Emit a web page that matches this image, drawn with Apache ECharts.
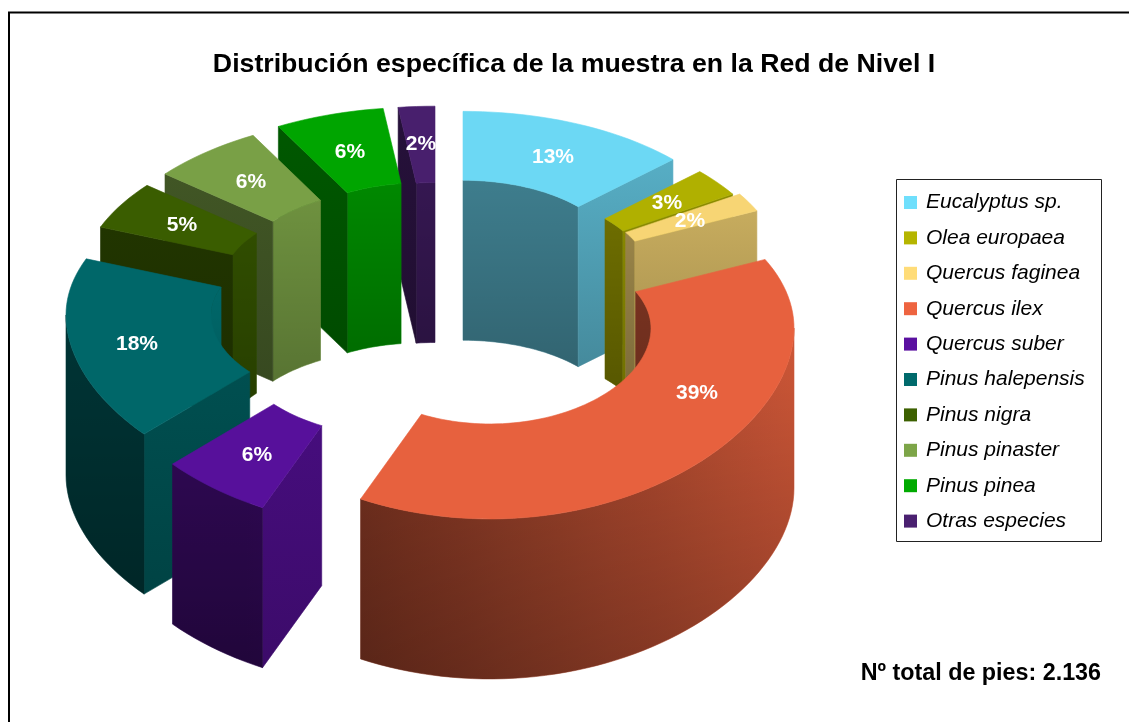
<!DOCTYPE html>
<html>
	<head>
		<meta charset="utf-8">
		<title>Distribución específica</title>
		<script src="https://cdn.jsdelivr.net/npm/echarts@6/dist/echarts.min.js"></script>
		<style>
			* { padding: 0; margin: 0; }
			body { background: #fff; }
			#main { width: 1129px; height: 722px; }
		</style>
	</head>
	<body>
		<div id="main"></div>
	</body>
	<script type="text/javascript">
		// datos
		var categories = ['Eucalyptus sp.', 'Olea europaea', 'Quercus faginea', 'Quercus ilex', 'Quercus suber',
			'Pinus halepensis', 'Pinus nigra', 'Pinus pinaster', 'Pinus pinea', 'Otras especies'];
		var percents = [13, 3, 2, 39, 6, 18, 5, 6, 6, 2];
		var legendColors = ['#6fdffc', '#b5b500', '#ffdc78', '#ee6440', '#5a10a0', '#006a6c', '#3c6000', '#7da548', '#00aa00', '#4a2070'];
		var titleText = 'Distribución específica de la muestra en la Red de Nivel I';
		var totalText = 'Nº total de pies: 2.136';

		// geometria del donut
		var baseX = 437, baseY = 303;
		var depth = 160;
		var tiltBack = 0.53, tiltFront = 0.56, bow = 0.0004;
		// radios y desplazamiento de cada porcion (explode), en px
		var radii = [[288, 158], [285, 155], [285, 150], [304, 161], [297, 158], [288, 143], [292, 150], [305, 165], [294, 151], [294, 150]];
		var explode = [[26, -39], [55, -28], [62, -28], [53, 25], [-48, 38], [-83, 12], [-65, -19], [-37, -26], [-17, -40], [-2, -41]];
		var labelAt = [[553, 157], [667, 203], [690, 221], [697, 393], [257, 455], [137, 344], [182, 225], [251, 182], [350, 152], [421, 144]];
		// tono de la pared interior de cada porcion
		var innerTone = [0.56, 0.6, 0.6, 0.5, 0.5, 0.97, 0.8, 0.88, 0.8, 0.72];

		// angulos acumulados
		var total = percents.reduce(function (a, b) { return a + b; }, 0);
		var startAngles = [];
		var acc = 0;
		for (let i = 0; i < percents.length; i++) {
			startAngles.push(acc / total * 360);
			acc += percents[i];
		}

		function rad(a) { return a * Math.PI / 180; }

		function shade(hex, f) {
			var n = parseInt(hex.slice(1), 16);
			var r = Math.min(255, Math.round((n >> 16) * f));
			var g = Math.min(255, Math.round(((n >> 8) & 255) * f));
			var b = Math.min(255, Math.round((n & 255) * f));
			return 'rgb(' + r + ',' + g + ',' + b + ')';
		}

		function vGrad(hex, f1, f2) {
			return new echarts.graphic.LinearGradient(0, 0, 0, 1, [
				{ offset: 0, color: shade(hex, f1) },
				{ offset: 1, color: shade(hex, f2) }
			]);
		}

		function point(i, outer, a, z) {
			var r = radii[i][outer ? 0 : 1];
			var wx = r * Math.sin(rad(a));
			var wy = r * Math.cos(rad(a));
			var sy = wy > 0 ? -tiltBack * wy : -tiltFront * wy * (1 + bow * Math.abs(wy));
			return [baseX + explode[i][0] + wx, baseY + explode[i][1] + sy + z];
		}

		function arc(i, outer, a1, a2, z) {
			var pts = [];
			var n = Math.max(2, Math.ceil((a2 - a1) / 2));
			for (let k = 0; k <= n; k++) {
				pts.push(point(i, outer, a1 + (a2 - a1) * k / n, z));
			}
			return pts;
		}

		function poly(points, fill, edge) {
			var style = { fill: fill };
			if (edge) {
				style.stroke = fill;
				style.lineWidth = 0.6;
			}
			return { type: 'polygon', shape: { points: points }, style: style };
		}

		// pared curva: gradiente horizontal segun el angulo + oscurecido vertical
		function curvedWall(i, outer, a1, a2, hex, shadeAt, darken) {
			var pts = arc(i, outer, a1, a2, 0).concat(arc(i, outer, a1, a2, depth).reverse());
			var x1 = point(i, outer, a1, 0)[0];
			var x2 = point(i, outer, a2, 0)[0];
			var minX = Math.min(x1, x2), maxX = Math.max(x1, x2);
			var stops = [];
			for (let k = 0; k <= 12; k++) {
				let a = a1 + (a2 - a1) * k / 12;
				let off = (point(i, outer, a, 0)[0] - minX) / Math.max(1, maxX - minX);
				stops.push({ offset: off, color: shade(hex, shadeAt(a)) });
			}
			stops.sort(function (p, q) { return p.offset - q.offset; });
			return [
				poly(pts, new echarts.graphic.LinearGradient(0, 0, 1, 0, stops), true),
				poly(pts, new echarts.graphic.LinearGradient(0, 0, 0, 1, [
					{ offset: 0, color: 'rgba(0,0,0,0)' },
					{ offset: 1, color: 'rgba(0,0,0,' + darken + ')' }
				]))
			];
		}

		function outerShade(a) { return Math.max(0.5, 0.62 + 0.25 * Math.sin(rad(a))); }

		function makeRender(i) {
			return function () {
				var hex = legendColors[i];
				var a1 = startAngles[i];
				var a2 = a1 + percents[i] / total * 360;
				var children = [];
				var innerShade = function () { return innerTone[i]; };

				// pared interior (solo lo que mira hacia el observador)
				var inA = [Math.max(a1, 0), Math.min(a2, 90)];
				var inB = [Math.max(a1, 270), Math.min(a2, 360)];
				if (inA[1] > inA[0]) {
					children = children.concat(curvedWall(i, false, inA[0], inA[1], hex, innerShade, 0.2));
				}
				if (inB[1] > inB[0]) {
					children = children.concat(curvedWall(i, false, inB[0], inB[1], hex, innerShade, 0.2));
				}
				// caras de corte
				if (Math.sin(rad(a2)) > 0.001) {
					children.push(poly([point(i, false, a2, 0), point(i, true, a2, 0), point(i, true, a2, depth), point(i, false, a2, depth)], vGrad(hex, 0.78, 0.62), true));
				}
				if (Math.sin(rad(a1)) < -0.001) {
					let f = Math.max(0.52, 0.62 - 0.18 * Math.cos(rad(a1)));
					children.push(poly([point(i, false, a1, 0), point(i, true, a1, 0), point(i, true, a1, depth), point(i, false, a1, depth)], vGrad(hex, f, f * 0.85), true));
				}
				// pared exterior
				var outA = [Math.max(a1, 90), Math.min(a2, 270)];
				if (outA[1] > outA[0]) {
					children = children.concat(curvedWall(i, true, outA[0], outA[1], hex, outerShade, 0.28));
				}
				// cara superior
				children.push(poly(arc(i, true, a1, a2, 0).concat(arc(i, false, a1, a2, 0).reverse()), shade(hex, 0.97), true));
				// etiqueta
				children.push({
					type: 'text',
					z2: 10,
					style: {
						text: percents[i] + '%',
						x: labelAt[i][0],
						y: labelAt[i][1],
						align: 'center',
						verticalAlign: 'middle',
						fill: '#fff',
						font: 'bold 21px "Liberation Sans", Arial, sans-serif'
					}
				});
				return { type: 'group', children: children };
			};
		}

		// de atras hacia adelante
		var order = percents.map(function (v, i) { return i; }).sort(function (p, q) {
			var mp = startAngles[p] + percents[p] / total * 180;
			var mq = startAngles[q] + percents[q] / total * 180;
			return Math.cos(rad(mq)) - Math.cos(rad(mp));
		});

		var myChart = echarts.init(document.getElementById('main'));
		var option = {
			animation: false,
			title: {
				text: titleText,
				left: 569,
				top: 46,
				textAlign: 'center',
				textStyle: { fontFamily: '"Liberation Sans", Arial, sans-serif', fontSize: 26.7, fontWeight: 'bold', color: '#000' }
			},
			legend: {
				data: categories,
				orient: 'vertical',
				left: 896,
				top: 191,
				padding: [0, 0, 0, 8],
				itemWidth: 13,
				itemHeight: 13,
				itemGap: 12.4,
				icon: 'rect',
				selectedMode: false,
				textStyle: { fontFamily: '"Liberation Sans", Arial, sans-serif', fontSize: 21, fontStyle: 'italic', color: '#000', lineHeight: 23, padding: [0, 0, 0, 4] }
			},
			graphic: [
				{ type: 'line', silent: true, shape: { x1: 8, y1: 12.5, x2: 1129, y2: 12.5 }, style: { stroke: '#000', lineWidth: 2 } },
				{ type: 'line', silent: true, shape: { x1: 9, y1: 12, x2: 9, y2: 722 }, style: { stroke: '#000', lineWidth: 2 } },
				{ type: 'rect', silent: true, shape: { x: 896.5, y: 179.5, width: 205, height: 362 }, style: { fill: 'none', stroke: '#222', lineWidth: 1 } },
				{ type: 'text', silent: true, style: { text: totalText, x: 1101, y: 674, align: 'right', verticalAlign: 'middle', fill: '#000', font: 'bold 23.3px "Liberation Sans", Arial, sans-serif' } }
			],
			series: order.map(function (i) {
				return {
					type: 'custom',
					name: categories[i],
					coordinateSystem: 'none',
					itemStyle: { color: legendColors[i] },
					data: [percents[i]],
					renderItem: makeRender(i)
				};
			})
		};
		myChart.setOption(option);
	</script>
</html>
